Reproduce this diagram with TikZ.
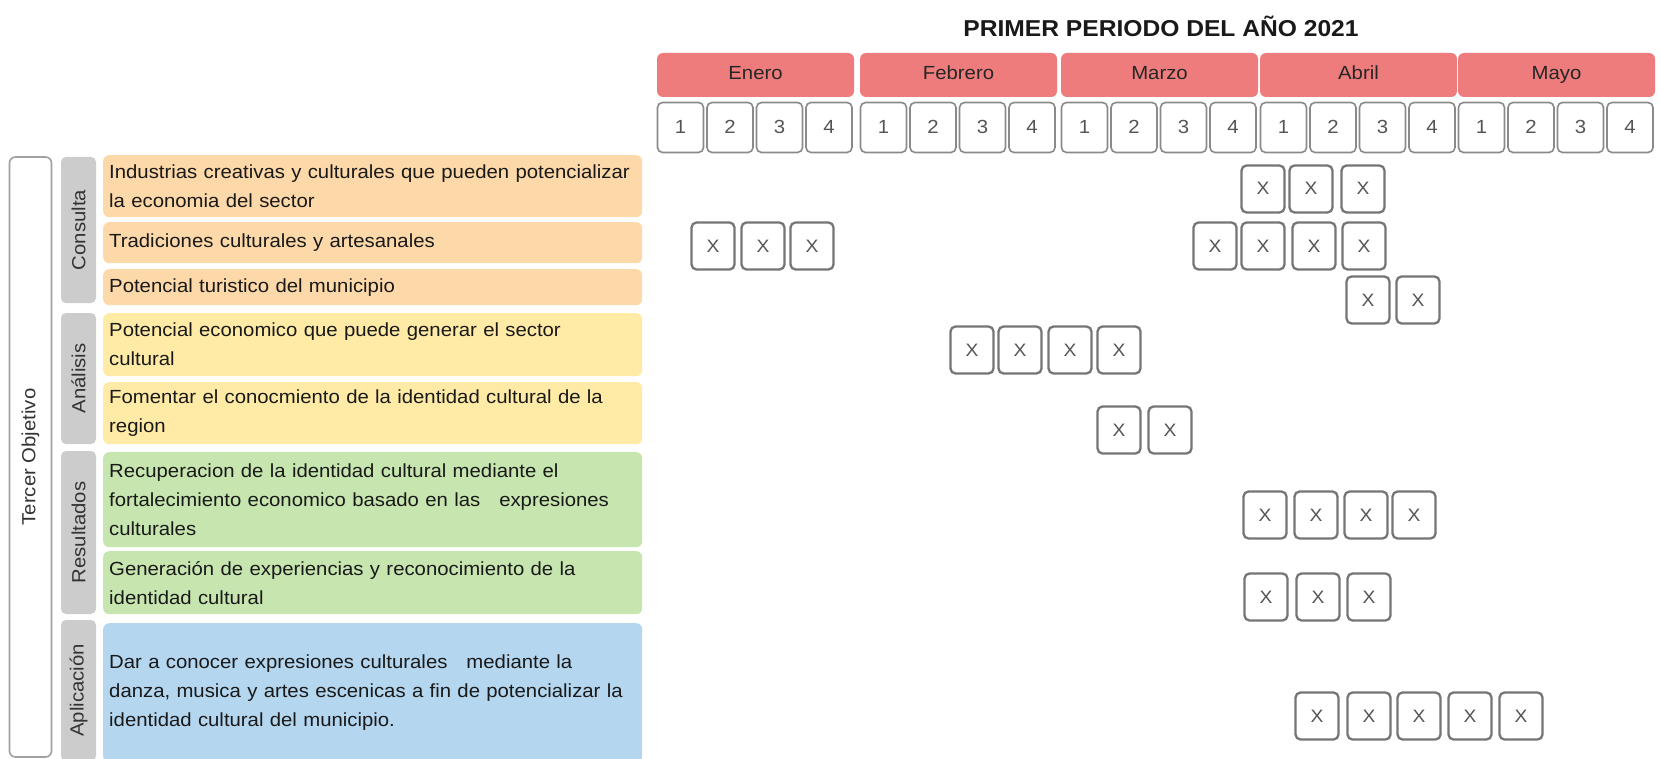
\documentclass[tikz,border=0pt]{standalone}
\usepackage{fontspec}
\setmainfont{Liberation Sans}[FakeStretch=1.07]
\usepackage{tikz}

\definecolor{naranja}{HTML}{FDD8A8}
\definecolor{amarillo}{HTML}{FFEBA5}
\definecolor{verde}{HTML}{C7E6AF}
\definecolor{azul}{HTML}{B4D6EF}
\definecolor{gris}{HTML}{CCCCCC}
\definecolor{rojo}{HTML}{EE7C7D}
\definecolor{borde}{HTML}{8A8A8A}
\definecolor{letra}{HTML}{555555}

\tikzset{
	tarea/.style={rounded corners=6pt, anchor=north west, text width=527pt, inner xsep=6pt, inner ysep=0pt, align=left, font=\fontsize{19}{29}\selectfont, text=black!90},
	fase/.style={fill=gris, rounded corners=5pt, rotate=90, minimum height=35pt, inner sep=0pt, font=\fontsize{19}{23}\selectfont, text=black!80},
	objetivo/.style={draw=borde!80, fill=white, line width=1.6pt, rounded corners=6pt, rotate=90, minimum height=42pt, inner sep=0pt, font=\fontsize{19}{23}\selectfont, text=black!80},
	mes/.style={fill=rojo, rounded corners=6pt, minimum width=197pt, minimum height=44pt, inner sep=0pt, text height=14pt, text depth=4pt, font=\fontsize{19}{23}\selectfont, text=black!85},
	semana/.style={draw=borde, fill=white, line width=1.6pt, rounded corners=5pt, minimum width=46pt, minimum height=50pt, inner sep=0pt, text height=14pt, text depth=2pt, font=\fontsize{19}{23}\selectfont, text=letra},
	marca/.style={draw=borde!85!black, fill=white, line width=2.3pt, rounded corners=5pt, minimum width=43pt, minimum height=47pt, inner sep=0pt, text height=15pt, text depth=3pt, font=\fontsize{18}{22}\selectfont, text=letra}
}

\begin{document}
\begin{tikzpicture}[x=1pt, y=-1pt]
	\useasboundingbox (0,0) rectangle (1661,759);

	\node[font=\fontsize{23}{28}\selectfont\bfseries, text=black!90] (titulo) at (1161,26) {PRIMER PERIODO DEL AÑO 2021};

	% meses y semanas
	\foreach \m/\mx/\mn in {1/657/Enero, 2/860/Febrero, 3/1061/Marzo, 4/1260/Abril, 5/1458/Mayo} {
		\node[mes] (m\m) at ({\mx+98.5},75) {\mn};
		\foreach \j in {1,...,4}
			\node[semana] (w\m-\j) at ({\mx+23.5+49.5*(\j-1)},127.5) {\j};
	}

	% objetivo y fases
	\node[objetivo, minimum width=600pt] (obj) at (30.5,457) {Tercer Objetivo};
	\node[fase, minimum width=146pt] (f1) at (78.5,230) {Consulta};
	\node[fase, minimum width=131pt] (f2) at (78.5,378.5) {Análisis};
	\node[fase, minimum width=163pt] (f3) at (78.5,532.5) {Resultados};
	\node[fase, minimum width=141pt] (f4) at (78.5,690.5) {Aplicación};

	% actividades
	\node[tarea, fill=naranja, minimum height=62pt] (t1) at (103,155) {Industrias creativas y culturales que pueden potencializar\\la economia del sector};
	\node[tarea, fill=naranja, minimum height=41pt] (t2) at (103,222) {Tradiciones culturales y artesanales};
	\node[tarea, fill=naranja, minimum height=36pt] (t3) at (103,269) {Potencial turistico del municipio};
	\node[tarea, fill=amarillo, minimum height=63pt] (t4) at (103,313) {Potencial economico que puede generar el sector\\cultural};
	\node[tarea, fill=amarillo, minimum height=62pt] (t5) at (103,382) {Fomentar el conocmiento de la identidad cultural de la\\region};
	\node[tarea, fill=verde, minimum height=95pt] (t6) at (103,452) {Recuperacion de la identidad cultural mediante el\\fortalecimiento economico basado en las \ \ expresiones\\culturales};
	\node[tarea, fill=verde, minimum height=63pt] (t7) at (103,551) {Generación de experiencias y reconocimiento de la\\identidad cultural};
	\node[tarea, fill=azul, minimum height=139pt] (t8) at (103,623) {Dar a conocer expresiones culturales \ \ mediante la\\danza, musica y artes escenicas a fin de potencializar la\\identidad cultural del municipio.};

	% marcas
	\foreach \x [count=\i] in {1263,1311,1363}
		\node[marca] (r1-\i) at (\x,189) {X};
	\foreach \x [count=\i] in {713,763,812,1215,1263,1314,1364}
		\node[marca] (r2-\i) at (\x,246) {X};
	\foreach \x [count=\i] in {1368,1418}
		\node[marca] (r3-\i) at (\x,300) {X};
	\foreach \x [count=\i] in {972,1020,1070,1119}
		\node[marca] (r4-\i) at (\x,350) {X};
	\foreach \x [count=\i] in {1119,1170}
		\node[marca] (r5-\i) at (\x,430) {X};
	\foreach \x [count=\i] in {1265,1316,1366,1414}
		\node[marca] (r6-\i) at (\x,515) {X};
	\foreach \x [count=\i] in {1266,1318,1369}
		\node[marca] (r7-\i) at (\x,597) {X};
	\foreach \x [count=\i] in {1317,1369,1419,1470,1521}
		\node[marca] (r8-\i) at (\x,716) {X};
\end{tikzpicture}
\end{document}
